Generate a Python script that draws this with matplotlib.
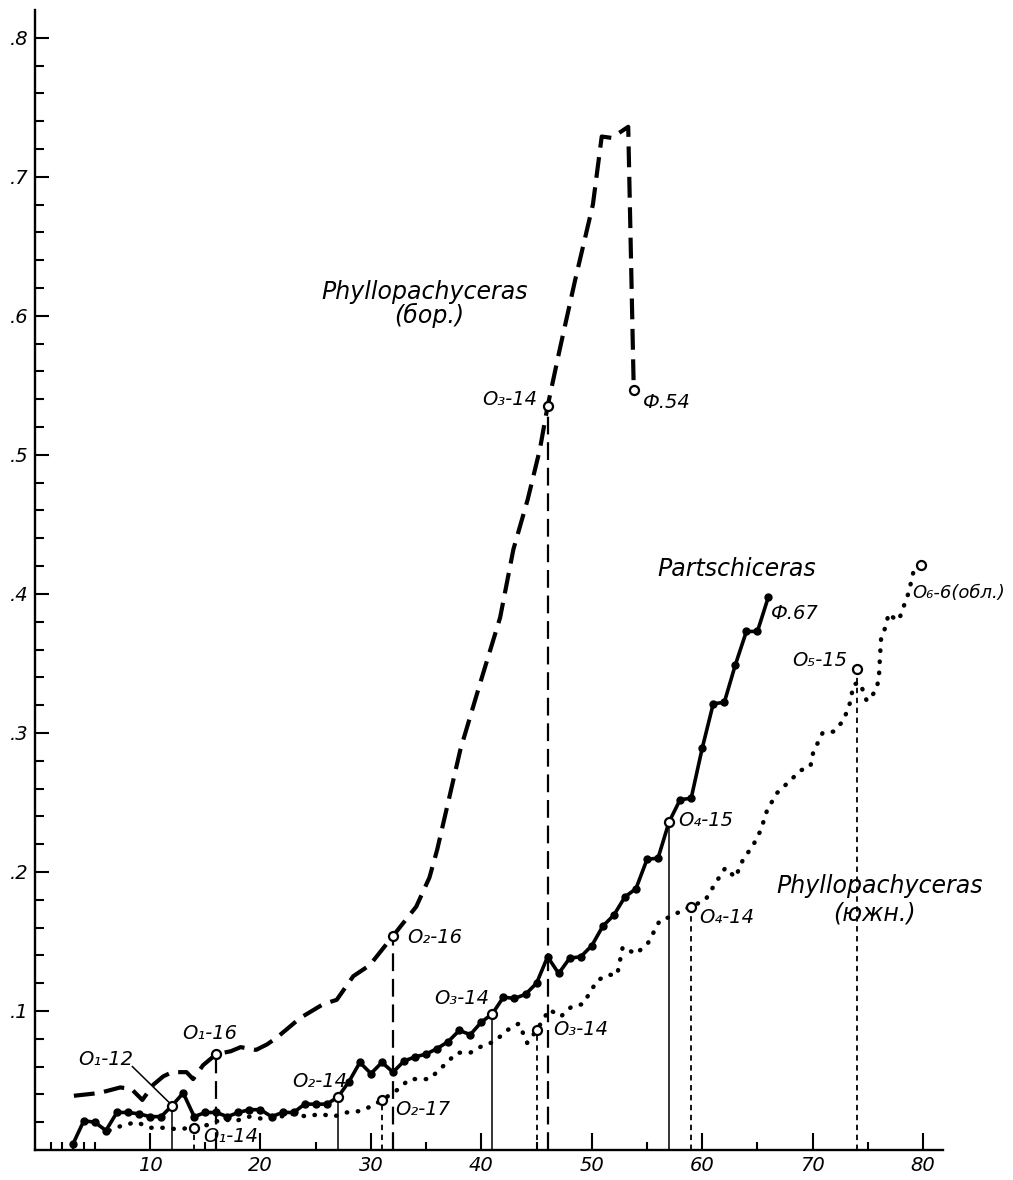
import matplotlib
matplotlib.use("Agg")
import matplotlib.pyplot as plt
from matplotlib.ticker import FixedLocator

plt.rcParams['font.family'] = ['DejaVu Sans']

# ---------------- data ----------------
# Phyllopachyceras (бор.) - dashed
bor_x = [3.1, 5.4, 7.3, 8.3, 9.3, 10.3, 11.2, 12.0, 13.3, 13.9, 14.8, 16.0, 17.3, 18.2,
         19.6, 20.6, 21.5, 23.6, 25.7, 26.9, 28.4, 29.9, 32.0, 34.1, 35.3, 36.0, 38.1,
         39.9, 41.7, 42.9, 44.2, 45.3, 46.0, 47.1, 48.5, 50.1, 50.9, 51.8, 53.3, 53.8]
bor_y = [0.039, 0.041, 0.045, 0.044, 0.036, 0.047, 0.053, 0.056, 0.056, 0.051, 0.061, 0.069,
         0.071, 0.074, 0.072, 0.076, 0.081, 0.095, 0.105, 0.108, 0.125, 0.133, 0.154, 0.175,
         0.196, 0.216, 0.288, 0.336, 0.383, 0.432, 0.468, 0.504, 0.535, 0.576, 0.626, 0.680,
         0.729, 0.728, 0.736, 0.547]

# Partschiceras - solid with dots
part_x = [3, 4, 5, 6, 7, 8, 9, 10, 11, 12, 13, 14, 15, 16, 17, 18, 19, 20, 21, 22, 23, 24,
          25, 26, 27, 28, 29, 30, 31, 32, 33, 34, 35, 36, 37, 38, 39, 40, 41, 42, 43, 44, 45,
          46, 47, 48, 49, 50, 51, 52, 53, 54, 55, 56, 57, 58, 59, 60, 61, 62, 63, 64, 65, 66]
part_y = [0.004, 0.021, 0.020, 0.014, 0.027, 0.027, 0.026, 0.024, 0.024, 0.032, 0.041, 0.024,
          0.027, 0.027, 0.024, 0.027, 0.029, 0.029, 0.024, 0.027, 0.027, 0.033, 0.033, 0.033,
          0.038, 0.049, 0.063, 0.055, 0.063, 0.056, 0.064, 0.067, 0.069, 0.073, 0.078, 0.086,
          0.083, 0.092, 0.098, 0.110, 0.109, 0.112, 0.120, 0.139, 0.127, 0.138, 0.139, 0.147,
          0.161, 0.169, 0.182, 0.188, 0.209, 0.210, 0.236, 0.252, 0.253, 0.289, 0.321, 0.322,
          0.349, 0.373, 0.373, 0.398]

# Phyllopachyceras (южн.) - dotted
south_x = [6.3, 7.6, 8.8, 10.0, 11.2, 12.4, 14.0, 15.2, 16.5, 17.8, 19.0, 20.5, 21.8, 23.0,
           24.2, 25.4, 26.6, 27.8, 29.0, 30.2, 31.0, 32.2, 33.5, 35.3, 36.5, 37.8, 39.0, 40.1,
           41.2, 42.3, 43.4, 44.15, 45.0, 46.15, 47.2, 48.15, 49.2, 50.5, 51.5, 52.3, 52.8,
           54.0, 55.1, 56.15, 57.2, 58.3, 59.0, 60.3, 61.2, 62.1, 63.0, 63.7, 64.6, 65.3, 65.9,
           66.8, 68.0, 68.9, 69.8, 70.05, 70.9, 71.9, 72.8, 73.4, 73.7, 74.3, 74.9, 75.4, 75.8,
           76.0, 76.1, 76.2, 76.5, 76.9, 77.3, 77.8, 78.2, 78.7, 79.1, 79.8]
south_y = [0.014, 0.018, 0.020, 0.016, 0.016, 0.015, 0.016, 0.018, 0.022, 0.021, 0.024, 0.022,
           0.024, 0.026, 0.024, 0.026, 0.024, 0.027, 0.028, 0.032, 0.036, 0.042, 0.051, 0.051,
           0.060, 0.070, 0.070, 0.075, 0.078, 0.086, 0.091, 0.077, 0.086, 0.101, 0.096, 0.103,
           0.105, 0.122, 0.126, 0.126, 0.146, 0.141, 0.149, 0.165, 0.168, 0.173, 0.175, 0.180,
           0.192, 0.203, 0.196, 0.209, 0.219, 0.230, 0.245, 0.257, 0.266, 0.273, 0.276, 0.286,
           0.300, 0.301, 0.309, 0.322, 0.335, 0.336, 0.323, 0.327, 0.332, 0.340, 0.355, 0.368,
           0.374, 0.386, 0.383, 0.381, 0.390, 0.401, 0.415, 0.421]

# marked samples
part_marks_x = [12, 27, 41, 57]
part_marks_y = [0.032, 0.038, 0.098, 0.236]
part_marks_lbl = ["O₁-12", "O₂-14", "O₃-14", "O₄-15"]

bor_marks_x = [16, 32, 46]
bor_marks_y = [0.069, 0.154, 0.535]
bor_marks_lbl = ["O₁-16", "O₂-16", "O₃-14"]

south_marks_x = [14, 31, 45, 59, 74]
south_marks_y = [0.016, 0.036, 0.086, 0.175, 0.346]
south_marks_lbl = ["O₁-14", "O₂-17", "O₃-14", "O₄-14", "O₅-15"]

end_marks_x = [53.8, 79.8]
end_marks_y = [0.547, 0.421]
end_marks_lbl = ["Ф.54", "O₆-6(обл.)", "Ф.67"]

x_major = [10, 20, 30, 40, 50, 60, 70, 80]
x_minor = [1, 2, 3, 4, 5, 15, 25, 35, 45, 55, 65, 75]
y_major = [0.1, 0.2, 0.3, 0.4, 0.5, 0.6, 0.7, 0.8]
y_labels = [".1", ".2", ".3", ".4", ".5", ".6", ".7", ".8"]
y_minor = [0.02, 0.04, 0.06, 0.08, 0.12, 0.14, 0.16, 0.18, 0.22, 0.24, 0.26, 0.28,
           0.32, 0.34, 0.36, 0.38, 0.42, 0.44, 0.46, 0.48, 0.52, 0.54, 0.56, 0.58,
           0.62, 0.64, 0.66, 0.68, 0.72, 0.74, 0.76, 0.78]

# ---------------- figure ----------------
fig = plt.figure(figsize=(10.13, 11.80), dpi=100)
fig.patch.set_facecolor("white")
ax = fig.add_axes([0.03455, 0.02542, 0.8963, 0.9661])
ax.set_xlim(-0.42, 81.8)
ax.set_ylim(0, 0.820)

for s in ["top", "right"]:
    ax.spines[s].set_visible(False)
for s in ["left", "bottom"]:
    ax.spines[s].set_linewidth(1.7)

ax.xaxis.set_major_locator(FixedLocator(x_major))
ax.xaxis.set_minor_locator(FixedLocator(x_minor))
ax.yaxis.set_major_locator(FixedLocator(y_major))
ax.yaxis.set_minor_locator(FixedLocator(y_minor))
ax.set_yticklabels(y_labels)
ax.tick_params(axis="x", which="major", direction="in", length=12, width=1.5,
               labelsize=14, pad=4)
ax.tick_params(axis="x", which="minor", direction="in", length=6, width=1.5)
ax.tick_params(axis="y", which="major", direction="in", length=10, width=1.5,
               labelsize=14, pad=5)
ax.tick_params(axis="y", which="minor", direction="in", length=6.5, width=1.5)
for lab in ax.get_xticklabels() + ax.get_yticklabels():
    lab.set_fontstyle("italic")

# vertical reference lines
for x, y in zip(part_marks_x, part_marks_y):
    ax.plot([x, x], [0, y], color="black", lw=1.1, zorder=2)
for x, y in zip(bor_marks_x, bor_marks_y):
    ax.plot([x, x], [0, y], color="black", lw=1.6, linestyle=(0, (8, 3.5)), zorder=2)
for x, y in zip(south_marks_x, south_marks_y):
    ax.plot([x, x], [0, y], color="black", lw=1.3, linestyle=(0, (3, 2.5)), zorder=2)

# series
ax.plot(bor_x, bor_y, color="black", lw=3.0, linestyle=(0, (5, 2.3)),
        dash_capstyle="butt", zorder=3)
ax.plot(part_x, part_y, color="black", lw=2.6, marker="o", markersize=5,
        markerfacecolor="black", markeredgecolor="black", zorder=4)
ax.plot(south_x, south_y, color="black", lw=3.2, linestyle=(0, (0.1, 2.4)),
        dash_capstyle="round", zorder=3)

# open circles
for xs, ys in [(part_marks_x, part_marks_y), (bor_marks_x, bor_marks_y),
               (south_marks_x, south_marks_y), (end_marks_x, end_marks_y)]:
    ax.plot(xs, ys, linestyle="none", marker="o", markersize=6.5,
            markerfacecolor="white", markeredgecolor="black", markeredgewidth=1.6, zorder=6)

# leader line for O1-12
ax.plot([8.4, 11.75], [0.060, 0.034], color="black", lw=1.1, zorder=5)

sp = dict(fontsize=17, fontstyle="italic", color="black", ha="center", va="center")
tk = dict(fontsize=14, fontstyle="italic", color="black", zorder=7, clip_on=False)
# species labels
ax.text(34.9, 0.617, "Phyllopachyceras", **sp)
ax.text(35.3, 0.600, "(бор.)", **sp)
ax.text(63.1, 0.418, "Partschiceras", **sp)
ax.text(76.1, 0.190, "Phyllopachyceras", **sp)
ax.text(75.6, 0.170, "(южн.)", **sp)

# sample labels
ax.text(45.1, 0.540, bor_marks_lbl[2], ha="right", va="center", **tk)
ax.text(54.6, 0.538, end_marks_lbl[0], ha="left", va="center", **tk)
ax.text(66.2, 0.386, end_marks_lbl[2], ha="left", va="center", **tk)
ax.text(79.0, 0.401, end_marks_lbl[1], ha="left", va="center",
        **{**tk, "fontsize": 13})
ax.text(73.1, 0.352, south_marks_lbl[4], ha="right", va="center", **tk)
ax.text(57.8, 0.237, part_marks_lbl[3], ha="left", va="center", **tk)
ax.text(59.7, 0.167, south_marks_lbl[3], ha="left", va="center", **tk)
ax.text(33.3, 0.153, bor_marks_lbl[1], ha="left", va="center", **tk)
ax.text(40.7, 0.109, part_marks_lbl[2], ha="right", va="center", **tk)
ax.text(46.5, 0.087, south_marks_lbl[2], ha="left", va="center", **tk)
ax.text(15.4, 0.084, bor_marks_lbl[0], ha="center", va="center", **tk)
ax.text(6.0, 0.065, part_marks_lbl[0], ha="center", va="center", **tk)
ax.text(25.4, 0.049, part_marks_lbl[1], ha="center", va="center", **tk)
ax.text(32.2, 0.029, south_marks_lbl[1], ha="left", va="center", **tk)
ax.text(14.8, 0.010, south_marks_lbl[0], ha="left", va="center", **tk)

fig.savefig("out.png", dpi=100, facecolor="white")
